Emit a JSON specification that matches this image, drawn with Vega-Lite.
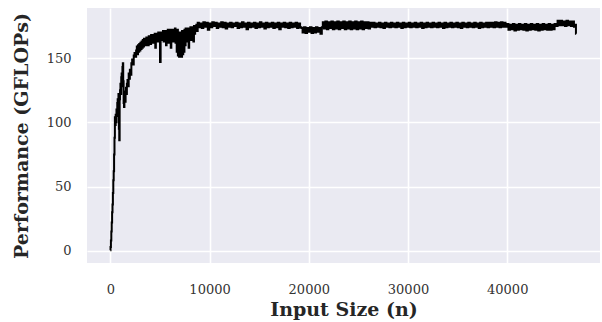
{
  "$schema": "https://vega.github.io/schema/vega-lite/v6.json",
  "width": 513,
  "height": 255,
  "autosize": {"type": "none"},
  "padding": {"left": 87, "top": 8, "right": 2, "bottom": 59},
  "background": "white",
  "config": {
    "view": {"fill": "#EAEAF2", "stroke": null},
    "axis": {
      "domain": false,
      "ticks": false,
      "grid": true,
      "gridColor": "white",
      "gridWidth": 1.6,
      "labelFont": "DejaVu Serif",
      "labelFontSize": 13,
      "labelColor": "#333333",
      "titleFont": "DejaVu Serif",
      "titleFontSize": 19,
      "titleFontWeight": "bold",
      "titleColor": "#262626"
    }
  },
  "data": {"values": [
    {"x":0,"y":0.5},{"x":40,"y":3},{"x":80,"y":8},{"x":120,"y":15},{"x":160,"y":22},{"x":200,"y":30},{"x":240,"y":36},{"x":280,"y":45},{"x":320,"y":55},{"x":360,"y":62},{"x":400,"y":75},{"x":440,"y":88},{"x":480,"y":104},{"x":520,"y":98},{"x":560,"y":106},{"x":600,"y":100},{"x":640,"y":110},{"x":680,"y":105},{"x":720,"y":115},{"x":760,"y":118},{"x":800,"y":108},{"x":840,"y":122},{"x":880,"y":95},{"x":920,"y":86},{"x":960,"y":118},{"x":1000,"y":125},{"x":1040,"y":130},{"x":1080,"y":122},{"x":1120,"y":135},{"x":1160,"y":138},{"x":1200,"y":128},{"x":1240,"y":143},{"x":1280,"y":146},{"x":1320,"y":132},{"x":1360,"y":115},{"x":1400,"y":112},{"x":1440,"y":118},{"x":1480,"y":121},{"x":1520,"y":116},{"x":1560,"y":124},{"x":1600,"y":127},{"x":1640,"y":122},{"x":1700,"y":130},{"x":1760,"y":133},{"x":1820,"y":128},{"x":1880,"y":138},{"x":1940,"y":134},{"x":2000,"y":141},{"x":2080,"y":137},{"x":2160,"y":146},{"x":2240,"y":149},{"x":2320,"y":145},{"x":2400,"y":152},{"x":2480,"y":154},{"x":2560,"y":151},{"x":2640,"y":156},
    {"x":2700,"y":159},{"x":2760,"y":153},{"x":2820,"y":160},{"x":2880,"y":155},{"x":2940,"y":161},{"x":3000,"y":156},{"x":3060,"y":162},{"x":3120,"y":157},{"x":3180,"y":163},{"x":3240,"y":158},{"x":3300,"y":164},{"x":3360,"y":159},{"x":3420,"y":165},{"x":3480,"y":160},{"x":3540,"y":165},{"x":3600,"y":160},{"x":3660,"y":166},{"x":3720,"y":161},{"x":3780,"y":166},{"x":3840,"y":160},{"x":3900,"y":167},{"x":3960,"y":162},{"x":4020,"y":167},{"x":4080,"y":161},{"x":4140,"y":168},{"x":4200,"y":163},{"x":4260,"y":168},{"x":4320,"y":162},{"x":4380,"y":168},{"x":4440,"y":163},{"x":4500,"y":169},{"x":4560,"y":158},{"x":4620,"y":169},{"x":4680,"y":164},{"x":4740,"y":169},{"x":4800,"y":163},{"x":4860,"y":170},{"x":4920,"y":164},{"x":4980,"y":170},{"x":5040,"y":147},{"x":5100,"y":170},{"x":5160,"y":165},{"x":5220,"y":170},{"x":5280,"y":164},{"x":5340,"y":171},{"x":5400,"y":163},{"x":5460,"y":171},{"x":5520,"y":165},{"x":5580,"y":171},{"x":5640,"y":160},{"x":5700,"y":171},{"x":5760,"y":164},{"x":5820,"y":172},{"x":5880,"y":162},{"x":5940,"y":171},{"x":6000,"y":165},{"x":6060,"y":172},{"x":6120,"y":158},{"x":6180,"y":172},{"x":6240,"y":164},{"x":6300,"y":172},{"x":6360,"y":163},{"x":6420,"y":172},{"x":6480,"y":165},{"x":6540,"y":173},{"x":6600,"y":162},{"x":6660,"y":172},{"x":6720,"y":155},{"x":6780,"y":172},{"x":6840,"y":152},{"x":6900,"y":170},{"x":6960,"y":151},{"x":7020,"y":168},{"x":7080,"y":152},{"x":7140,"y":170},{"x":7200,"y":151},{"x":7260,"y":171},{"x":7320,"y":153},{"x":7380,"y":171},{"x":7440,"y":155},{"x":7500,"y":172},{"x":7560,"y":160},{"x":7620,"y":173},{"x":7680,"y":163},{"x":7740,"y":173},{"x":7800,"y":166},{"x":7860,"y":173},{"x":7920,"y":158},{"x":7980,"y":173},{"x":8040,"y":167},{"x":8100,"y":174},{"x":8160,"y":164},{"x":8220,"y":174},{"x":8280,"y":168},{"x":8340,"y":174},{"x":8400,"y":163},{"x":8460,"y":175},{"x":8520,"y":169},{"x":8580,"y":175},{"x":8640,"y":172},{"x":8700,"y":176},{"x":8760,"y":171},
    {"x":8850,"y":177.5},{"x":9000,"y":174},{"x":9150,"y":177},{"x":9300,"y":173.5},{"x":9450,"y":178},{"x":9600,"y":174.5},{"x":9750,"y":177.5},{"x":9900,"y":172},{"x":10050,"y":177},{"x":10200,"y":174},{"x":10350,"y":178},{"x":10500,"y":175},{"x":10650,"y":177.5},{"x":10800,"y":173.5},{"x":10950,"y":177},{"x":11100,"y":174.5},{"x":11250,"y":178},{"x":11400,"y":174},{"x":11550,"y":177.5},{"x":11700,"y":173},{"x":11850,"y":177},{"x":12000,"y":174.5},{"x":12150,"y":177.5},{"x":12300,"y":174},{"x":12450,"y":177},{"x":12600,"y":175},{"x":12750,"y":177.5},{"x":12900,"y":173.5},{"x":13050,"y":177},{"x":13200,"y":174},{"x":13350,"y":178},{"x":13500,"y":174.5},{"x":13650,"y":177},{"x":13800,"y":172.5},{"x":13950,"y":177.5},{"x":14100,"y":174},{"x":14250,"y":177},{"x":14400,"y":174.5},{"x":14550,"y":177.5},{"x":14700,"y":173.5},{"x":14850,"y":177},{"x":15000,"y":174},{"x":15150,"y":178},{"x":15300,"y":174.5},{"x":15450,"y":177},{"x":15600,"y":173},{"x":15750,"y":177.5},{"x":15900,"y":174},{"x":16050,"y":177},{"x":16200,"y":174.5},{"x":16350,"y":177.5},{"x":16500,"y":173.5},{"x":16650,"y":177},{"x":16800,"y":174},{"x":16950,"y":177.5},{"x":17100,"y":172.5},{"x":17250,"y":177},{"x":17400,"y":174.5},{"x":17550,"y":177.5},{"x":17700,"y":174},{"x":17850,"y":177},{"x":18000,"y":173.5},{"x":18150,"y":177.5},{"x":18300,"y":174},{"x":18450,"y":177},{"x":18600,"y":174.5},{"x":18750,"y":177.5},{"x":18900,"y":173.5},{"x":19050,"y":177},{"x":19200,"y":174},
    {"x":19300,"y":173.5},{"x":19450,"y":170},{"x":19600,"y":174},{"x":19750,"y":169.5},{"x":19900,"y":173.5},{"x":20050,"y":170.5},{"x":20200,"y":174},{"x":20350,"y":169.5},{"x":20500,"y":173.5},{"x":20650,"y":170},{"x":20800,"y":174},{"x":20950,"y":170.5},{"x":21100,"y":173.5},{"x":21250,"y":169},{"x":21380,"y":174},
    {"x":21450,"y":178},{"x":21600,"y":173},{"x":21750,"y":178.5},{"x":21900,"y":172.5},{"x":22050,"y":178},{"x":22200,"y":173.5},{"x":22350,"y":178.5},{"x":22500,"y":172.5},{"x":22650,"y":178},{"x":22800,"y":173},{"x":22950,"y":178.5},{"x":23100,"y":172.5},{"x":23250,"y":178},{"x":23400,"y":173.5},{"x":23550,"y":178.5},{"x":23700,"y":172.5},{"x":23850,"y":178},{"x":24000,"y":173},{"x":24150,"y":178.5},{"x":24300,"y":172.5},{"x":24450,"y":178},{"x":24600,"y":173},{"x":24750,"y":178.5},{"x":24900,"y":172.5},{"x":25050,"y":178},{"x":25200,"y":173},{"x":25350,"y":178.5},{"x":25500,"y":172.5},{"x":25650,"y":178},{"x":25800,"y":173.5},{"x":25950,"y":178},{"x":26100,"y":173},{"x":26250,"y":177.5},
    {"x":26400,"y":174.5},{"x":26550,"y":177.5},{"x":26700,"y":174},{"x":26850,"y":177},{"x":27000,"y":174.5},{"x":27150,"y":177.5},{"x":27300,"y":174},{"x":27450,"y":177},{"x":27600,"y":173.5},{"x":27750,"y":177.5},{"x":27900,"y":174.5},{"x":28050,"y":177},{"x":28200,"y":174},{"x":28350,"y":177.5},{"x":28500,"y":174.5},{"x":28650,"y":177},{"x":28800,"y":174},{"x":28950,"y":177.5},{"x":29100,"y":174.5},{"x":29250,"y":177},{"x":29400,"y":173.5},{"x":29550,"y":177.5},{"x":29700,"y":174},{"x":29850,"y":177},{"x":30000,"y":174.5},{"x":30150,"y":177.5},{"x":30300,"y":174},{"x":30450,"y":177},{"x":30600,"y":174.5},{"x":30750,"y":177.5},{"x":30900,"y":174},{"x":31050,"y":177},{"x":31200,"y":174.5},{"x":31350,"y":177.5},{"x":31500,"y":173.5},{"x":31650,"y":177},{"x":31800,"y":174},{"x":31950,"y":177.5},{"x":32100,"y":174.5},{"x":32250,"y":177},{"x":32400,"y":174},{"x":32550,"y":177.5},{"x":32700,"y":174.5},{"x":32850,"y":177},{"x":33000,"y":174},{"x":33150,"y":177.5},{"x":33300,"y":174.5},{"x":33450,"y":177},{"x":33600,"y":173.5},{"x":33750,"y":177.5},{"x":33900,"y":174},{"x":34050,"y":177},{"x":34200,"y":174.5},{"x":34350,"y":177.5},{"x":34500,"y":174},{"x":34650,"y":177},{"x":34800,"y":174.5},{"x":34950,"y":177.5},{"x":35100,"y":174},{"x":35250,"y":177},{"x":35400,"y":173.5},{"x":35550,"y":177.5},{"x":35700,"y":174.5},{"x":35850,"y":177},{"x":36000,"y":174},{"x":36150,"y":177.5},{"x":36300,"y":174.5},{"x":36450,"y":177},{"x":36600,"y":174},{"x":36750,"y":177.5},{"x":36900,"y":174.5},{"x":37050,"y":177},{"x":37200,"y":173.5},{"x":37350,"y":177.5},{"x":37500,"y":174},{"x":37650,"y":177},{"x":37800,"y":174.5},{"x":37950,"y":177.5},{"x":38100,"y":174},{"x":38250,"y":177.5},{"x":38400,"y":174.5},{"x":38550,"y":177.5},{"x":38700,"y":174},{"x":38850,"y":178},{"x":39000,"y":174.5},{"x":39150,"y":177.5},{"x":39300,"y":174},{"x":39450,"y":178},{"x":39600,"y":174.5},{"x":39750,"y":177.5},{"x":39900,"y":174.5},
    {"x":40050,"y":176.5},{"x":40200,"y":172},{"x":40350,"y":176},{"x":40500,"y":172.5},{"x":40650,"y":176.5},{"x":40800,"y":171.5},{"x":40950,"y":176},{"x":41100,"y":172},{"x":41250,"y":176.5},{"x":41400,"y":172.5},{"x":41550,"y":176},{"x":41700,"y":172},{"x":41850,"y":176.5},{"x":42000,"y":171.5},{"x":42150,"y":176},{"x":42300,"y":172},{"x":42450,"y":176.5},{"x":42600,"y":172.5},{"x":42750,"y":176},{"x":42900,"y":172},{"x":43050,"y":176.5},{"x":43200,"y":171.5},{"x":43350,"y":176},{"x":43500,"y":172},{"x":43650,"y":176.5},{"x":43800,"y":172.5},{"x":43950,"y":176},{"x":44100,"y":172},{"x":44250,"y":176.5},{"x":44400,"y":172},{"x":44550,"y":176},{"x":44700,"y":172.5},{"x":44850,"y":176.5},
    {"x":45000,"y":175},{"x":45150,"y":179},{"x":45300,"y":175.5},{"x":45450,"y":179},{"x":45600,"y":175.5},{"x":45750,"y":178.5},{"x":45900,"y":175},{"x":46050,"y":179},{"x":46200,"y":175.5},{"x":46350,"y":178.5},{"x":46500,"y":175},{"x":46650,"y":178.5},{"x":46800,"y":174.5},{"x":46900,"y":176},{"x":46950,"y":169}
  ]},
  "mark": {"type": "line", "color": "black", "strokeWidth": 2, "interpolate": "step", "clip": true},
  "encoding": {
    "x": {
      "field": "x", "type": "quantitative",
      "scale": {"domain": [-2350, 49350], "nice": false, "zero": false},
      "axis": {"values": [0, 10000, 20000, 30000, 40000], "format": "d", "labelPadding": 20, "title": "Input Size (n)", "titlePadding": 4}
    },
    "y": {
      "field": "y", "type": "quantitative",
      "scale": {"domain": [-9.5, 189], "nice": false, "zero": false},
      "axis": {"values": [0, 50, 100, 150], "labelPadding": 16, "title": "Performance (GFLOPs)", "titlePadding": 15}
    }
  }
}
